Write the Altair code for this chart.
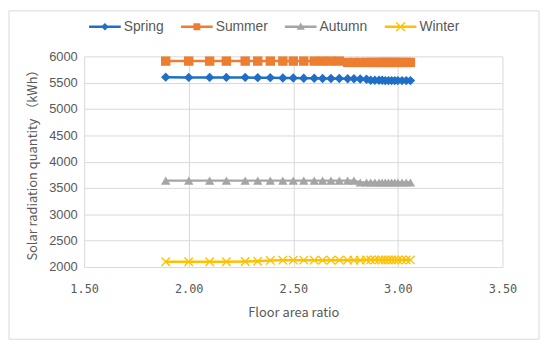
import altair as alt
import pandas as pd

series_names = ["Spring", "Summer", "Autumn", "Winter"]
series_colors = ["#1F6FC6", "#ED7D31", "#A5A5A5", "#FFC000"]

ratio = [1.89, 2.00, 2.10, 2.18, 2.27, 2.33, 2.39, 2.45, 2.50, 2.55,
         2.60, 2.64, 2.68, 2.72, 2.76, 2.79, 2.82, 2.85, 2.87, 2.89,
         2.91, 2.925, 2.94, 2.955, 2.97, 2.985, 3.00, 3.02, 3.04, 3.06]

spring = [5605, 5600, 5600, 5600, 5600, 5595, 5595, 5590, 5590, 5585,
          5585, 5580, 5580, 5580, 5575, 5575, 5570, 5565, 5545, 5545,
          5545, 5545, 5540, 5540, 5540, 5540, 5540, 5540, 5540, 5540]
summer = [5910, 5910, 5910, 5910, 5910, 5910, 5910, 5910, 5910, 5910,
          5910, 5910, 5910, 5910, 5885, 5885, 5885, 5885, 5885, 5885,
          5885, 5885, 5885, 5885, 5885, 5885, 5885, 5885, 5885, 5885]
autumn = [3640, 3640, 3640, 3640, 3640, 3640, 3640, 3640, 3640, 3640,
          3640, 3640, 3640, 3640, 3640, 3640, 3605, 3605, 3605, 3605,
          3605, 3605, 3605, 3605, 3605, 3605, 3605, 3605, 3605, 3605]
winter = [2100, 2100, 2100, 2100, 2105, 2110, 2125, 2130, 2130, 2130,
          2130, 2130, 2130, 2130, 2130, 2130, 2130, 2135, 2135, 2135,
          2135, 2135, 2135, 2135, 2135, 2135, 2135, 2135, 2135, 2135]

x_ticks = [1.5, 2.0, 2.5, 3.0, 3.5]
y_ticks = [2000, 2500, 3000, 3500, 4000, 4500, 5000, 5500, 6000]

rows = []
for name, vals in zip(series_names, [spring, summer, autumn, winter]):
    for r, v in zip(ratio, vals):
        rows.append({"series": name, "ratio": r, "value": v})
df = pd.DataFrame(rows)

x_path = "M-1,-0.8L-0.8,-1L1,0.8L0.8,1Z M0.8,-1L1,-0.8L-0.8,1L-1,0.8Z"
plot_shapes = ["diamond", "square", "triangle-up", x_path]

bar = "M-1,-0.08H1V0.08H-1Z "
legend_shapes = [
    bar + "M0,-0.24L0.24,0L0,0.24L-0.24,0Z",
    bar + "M-0.22,-0.22H0.22V0.22H-0.22Z",
    bar + "M0,-0.26L0.26,0.2H-0.26Z",
    bar + "M-0.3,-0.24L-0.24,-0.3L0.3,0.24L0.24,0.3Z M0.24,-0.3L0.3,-0.24L-0.24,0.3L-0.3,0.24Z",
]

font = "Noto Sans CJK SC"
label_color = "#595959"

x_enc = alt.X("ratio:Q",
              scale=alt.Scale(domain=[1.5, 3.5], nice=False, zero=False),
              axis=alt.Axis(values=x_ticks, format=".2f", title="Floor area ratio",
                            labelFont="DejaVu Sans Mono", labelFontSize=12,
                            labelColor=label_color, labelPadding=17, labelFlush=False,
                            titleFont=font, titleFontSize=13, titleFontWeight="normal",
                            titleColor=label_color, titlePadding=12,
                            domain=False, ticks=False, gridColor="#D9D9D9"))
y_enc = alt.Y("value:Q",
              scale=alt.Scale(domain=[2000, 6000], nice=False, zero=False),
              axis=alt.Axis(values=y_ticks, format="d", title="Solar radiation quantity （kWh）",
                            labelFont="Liberation Sans", labelFontSize=13,
                            labelColor=label_color, labelPadding=7, labelFlush=False,
                            titleFont=font, titleFontSize=13, titleFontWeight="normal",
                            titleColor=label_color, titlePadding=9,
                            domain=False, ticks=False, gridColor="#D9D9D9"))

color_scale = alt.Scale(domain=series_names, range=series_colors)

base = alt.Chart(df)

lines = base.mark_line(strokeWidth=2.5).encode(
    x=x_enc, y=y_enc,
    color=alt.Color("series:N", scale=color_scale, legend=None),
)

points = base.mark_point(filled=True, opacity=1, size=90).encode(
    x=x_enc, y=y_enc,
    color=alt.Color("series:N", scale=color_scale, legend=None),
    shape=alt.Shape("series:N", scale=alt.Scale(domain=series_names, range=plot_shapes),
                    legend=None),
)

legend_cfg = alt.Legend(title=None, orient="none", legendX=5, legendY=-46,
                        direction="horizontal", columns=4, symbolSize=1024,
                        symbolOpacity=1, symbolStrokeWidth=0,
                        labelFont="Liberation Sans", labelFontSize=14,
                        labelColor=label_color, labelOffset=3, columnPadding=17,
                        padding=0)

legend_layer = base.mark_point(filled=True, opacity=0).encode(
    x=x_enc, y=y_enc,
    color=alt.Color("series:N", scale=color_scale, legend=legend_cfg),
    shape=alt.Shape("series:N", scale=alt.Scale(domain=series_names, range=legend_shapes),
                    legend=legend_cfg),
)

frame = alt.Chart(pd.DataFrame({"f": [0]})).mark_rect(
    fill=None, stroke="#D9D9D9", strokeWidth=1, clip=False
).encode(x=alt.value(-76), x2=alt.value(460), y=alt.value(-46), y2=alt.value(286))

chart = alt.layer(frame, lines, points, legend_layer).resolve_scale(
    color="independent", shape="independent"
).properties(
    width=423, height=213,
    autosize=alt.AutoSizeParams(type="none"),
    padding={"left": 77, "top": 47, "right": 40, "bottom": 78},
).configure_view(stroke=None)

chart.save("out.html", embed_options={"renderer": "svg", "actions": False})
